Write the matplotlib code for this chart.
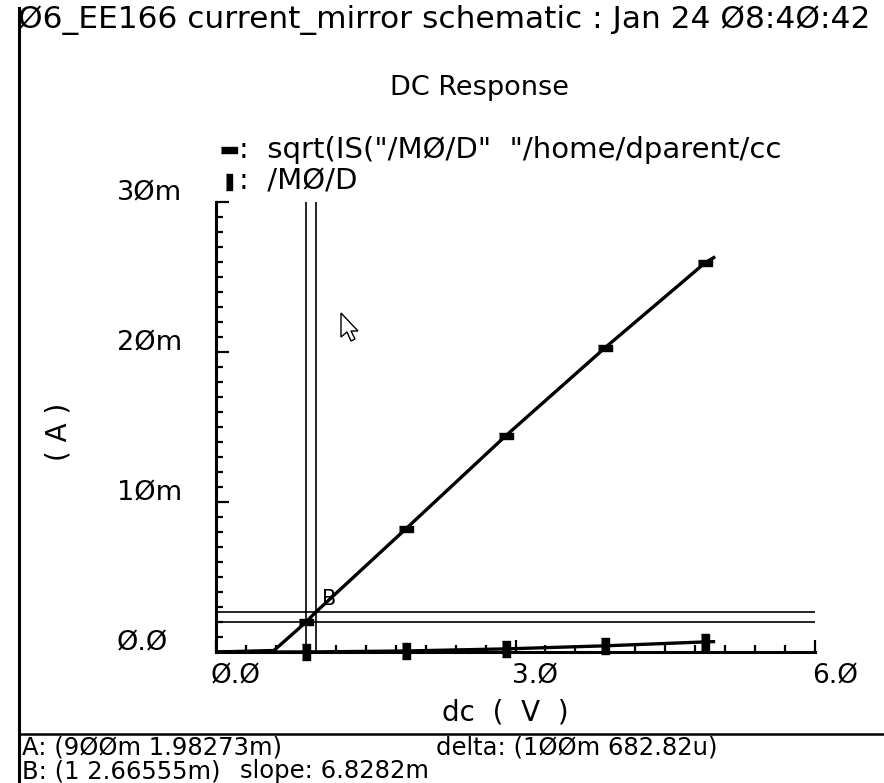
import numpy as np
import matplotlib
matplotlib.use("Agg")
import matplotlib.pyplot as plt
from matplotlib.lines import Line2D
from matplotlib.patches import Polygon
from matplotlib.transforms import IdentityTransform

# dc sweep (V) and the two plotted waveforms (A)
dc_v = [0.0, 0.58, 0.9, 1.0, 1.9, 2.9, 3.9, 4.9, 5.0]
sqrt_id = [0.0, 0.1e-3, 1.98273e-3, 2.66555e-3, 8.2e-3, 14.4e-3, 20.3e-3, 25.95e-3, 26.35e-3]
id_m0 = [0.0, 0.0, 3.93e-6, 7.1e-6, 67e-6, 207e-6, 412e-6, 673e-6, 694e-6]
mark_v = [0.9, 1.9, 2.9, 3.9, 4.9]

# cursors A and B
cur_a = (0.9, 1.98273e-3)
cur_b = (1.0, 2.66555e-3)

xticks = [0.0, 3.0, 6.0]
xtick_lbl = ["Ø.Ø", "3.Ø", "6.Ø"]
yticks = [0.0, 10e-3, 20e-3, 30e-3]
ytick_lbl = ["Ø.Ø", "1Øm", "2Øm", "3Øm"]

W, H = 884, 783
plt.rcParams['font.family'] = ['DejaVu Sans']
fig = plt.figure(figsize=(W/100, H/100), dpi=100)

def px(x, y):
    return x/W, 1 - y/H

# plot area in pixels: x 216..815, y 652..202
ax = fig.add_axes([216/W, 1-652/H, (815-216)/W, (652-202)/H])
ax.set_xlim(0, 6)
ax.set_ylim(0, 0.03)
for s in ['top', 'right']:
    ax.spines[s].set_visible(False)
for s in ['left', 'bottom']:
    ax.spines[s].set_linewidth(2.2)
ax.set_xticks(xticks)
ax.set_yticks(yticks)
ax.set_xticks(np.arange(0, 6.01, 0.3), minor=True)
ax.set_yticks(np.arange(0, 0.0301, 0.001), minor=True)
ax.tick_params(which='both', direction='in', width=1.6, labelleft=False, labelbottom=False)
ax.tick_params(which='major', length=9)
ax.tick_params(which='minor', length=5)

# tick labels
for v, t in zip(xticks, xtick_lbl):
    ax.annotate(t, (v, 0), xycoords='data', xytext=(20, -24), textcoords='offset pixels',
                ha='center', va='center', fontsize=19)
for v, t in zip(yticks, ytick_lbl):
    ax.annotate(t, (0, v), xycoords='data', xytext=(-99, 9), textcoords='offset pixels',
                ha='left', va='center', fontsize=19.5)

idx = [dc_v.index(v) for v in mark_v]
rect_h = [(-1, -0.45), (1, -0.45), (1, 0.45), (-1, 0.45)]
rect_v = [(-0.45, -1), (0.45, -1), (0.45, 1), (-0.45, 1)]

# cursor lines
ax.axvline(cur_a[0], color='black', lw=1.2)
ax.axvline(cur_b[0], color='black', lw=1.2)
ax.axhline(cur_a[1], color='black', lw=1.2)
ax.axhline(cur_b[1], color='black', lw=1.2)

ax.plot(dc_v, sqrt_id, color='black', lw=2.4, marker=rect_h, ms=10,
        markevery=idx, clip_on=False, solid_capstyle='butt')
ax.plot(dc_v, id_m0, color='black', lw=2.4, marker=rect_v, ms=12,
        markevery=idx, clip_on=False, solid_capstyle='butt')
ax.text(cur_b[0] + 0.06, cur_b[1] + 0.2e-3, "B", fontsize=15, ha='left', va='bottom')

# header and titles
fig.text(*px(18, 20), "Ø6_EE166 current_mirror schematic : Jan 24 Ø8:4Ø:42",
         fontsize=22.5, ha='left', va='center')
fig.text(*px(480, 88), "DC Response", fontsize=19.5, ha='center', va='center')

# legend
fig.add_artist(Line2D([229/W], [1-150/H], marker=rect_h, ms=11, color='black', lw=0))
fig.add_artist(Line2D([229/W], [1-182/H], marker=rect_v, ms=11, color='black', lw=0))
fig.text(*px(239, 150), ":  sqrt(IS(\"/MØ/D\"  \"/home/dparent/cc", fontsize=21, ha='left', va='center')
fig.text(*px(239, 182), ":  /MØ/D", fontsize=21, ha='left', va='center')

fig.text(*px(58, 432), "( A )", fontsize=20, rotation=90, ha='center', va='center')
fig.text(*px(505, 712), "dc  (  V  )", fontsize=20, ha='center', va='center')

# left rule and cursor readout panel
fig.add_artist(Line2D([19/W, 19/W], [0, 1-8/H], color='black', lw=2.2))
fig.add_artist(Line2D([19/W, 1], [1-734/H, 1-734/H], color='black', lw=1.8))
fig.text(*px(22, 747), "A: (9ØØm 1.98273m)", fontsize=17.5, ha='left', va='center')
fig.text(*px(436, 747), "delta: (1ØØm 682.82u)", fontsize=17.5, ha='left', va='center')
fig.text(*px(22, 771), "B: (1 2.66555m)", fontsize=17.5, ha='left', va='center')
fig.text(*px(240, 771), "slope: 6.8282m", fontsize=17.5, ha='left', va='center')

# mouse pointer
ptr = np.array([(0, 0), (0, 24), (6, 19), (10, 28), (14, 26), (10, 18), (17, 18)], float)
ptr[:, 0] += 341
ptr[:, 1] = H - (313 + ptr[:, 1])
fig.add_artist(Polygon(ptr, closed=True, facecolor='white', edgecolor='black', lw=1.0,
                       transform=IdentityTransform()))

fig.savefig("out.png", dpi=100, facecolor='white')
